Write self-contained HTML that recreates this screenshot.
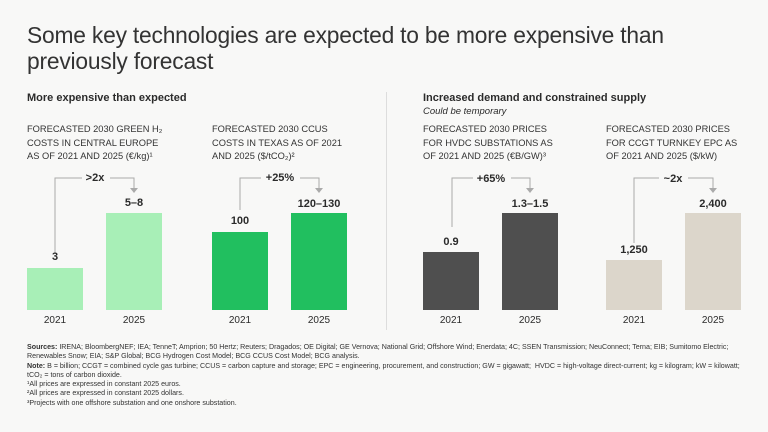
<!DOCTYPE html>
<html><head><style>
body{margin:0;width:768px;height:432px;background:#f8f8f7;font-family:"Liberation Sans",sans-serif;color:#2b2b2b;position:relative;overflow:hidden}
.a{position:absolute;white-space:nowrap}
.t{left:27px;font-size:22.8px;font-weight:300;color:#333;letter-spacing:-0.2px}
.h{font-size:11px;font-weight:bold;top:92px}
.s{font-size:9.3px;line-height:13.5px;top:123px;color:#333}
.b{position:absolute;bottom:122px;width:56px}
.v{font-size:11px;font-weight:bold;text-align:center;width:80px}
.y{font-size:10px;text-align:center;width:56px;top:315px}
.f{left:27px;top:343px;font-size:7.1px;line-height:9.3px;color:#333;white-space:normal;width:725px}
</style></head><body>
<div class="a t" style="top:22px">Some key technologies are expected to be more expensive than</div>
<div class="a t" style="top:48px">previously forecast</div>
<div class="a h" style="left:27px">More expensive than expected</div>
<div class="a h" style="left:423px">Increased demand and constrained supply</div>
<div class="a" style="left:423px;top:106px;font-size:9.5px;font-style:italic">Could be temporary</div>
<div class="a" style="left:386px;top:92px;width:1px;height:238px;background:#ddd"></div>
<div class="a s" style="left:27px">FORECASTED 2030 GREEN H₂<br>COSTS IN CENTRAL EUROPE<br>AS OF 2021 AND 2025 (€/kg)¹</div>
<div class="a s" style="left:212px">FORECASTED 2030 CCUS<br>COSTS IN TEXAS AS OF 2021<br>AND 2025 ($/tCO₂)²</div>
<div class="a s" style="left:423px">FORECASTED 2030 PRICES<br>FOR HVDC SUBSTATIONS AS<br>OF 2021 AND 2025 (€B/GW)³</div>
<div class="a s" style="left:606px">FORECASTED 2030 PRICES<br>FOR CCGT TURNKEY EPC AS<br>OF 2021 AND 2025 ($/kW)</div>
<svg class="a" style="left:0;top:0" width="768" height="432">
<g stroke="#aaa" stroke-width="1" fill="none">
<path d="M55 253V178H82M110 178H134V188"/>
<path d="M240 210V178H261M300 178H319V188"/>
<path d="M452 227V178H473M511 178H530V188"/>
<path d="M634 243V178H659M688 178H713V188"/>
</g>
<g fill="#aaa"><path d="M130 188h8l-4 5z"/><path d="M315 188h8l-4 5z"/><path d="M526 188h8l-4 5z"/><path d="M709 188h8l-4 5z"/></g>
</svg>
<div class="a v" style="left:55px;top:172px">&gt;2x</div>
<div class="a v" style="left:240px;top:172px">+25%</div>
<div class="a v" style="left:451px;top:173px">+65%</div>
<div class="a v" style="left:633px;top:173px">~2x</div>
<div class="b" style="left:27px;height:42px;background:#a8efb7"></div>
<div class="b" style="left:106px;height:97px;background:#a8efb7"></div>
<div class="b" style="left:212px;height:78px;background:#21bf5f"></div>
<div class="b" style="left:291px;height:97px;background:#21bf5f"></div>
<div class="b" style="left:423px;height:58px;background:#4f4f4f"></div>
<div class="b" style="left:502px;height:97px;background:#4f4f4f"></div>
<div class="b" style="left:606px;height:50px;background:#dcd6cb"></div>
<div class="b" style="left:685px;height:97px;background:#dcd6cb"></div>
<div class="a v" style="left:15px;top:251px">3</div>
<div class="a v" style="left:94px;top:197px">5–8</div>
<div class="a v" style="left:200px;top:215px">100</div>
<div class="a v" style="left:279px;top:198px">120–130</div>
<div class="a v" style="left:411px;top:236px">0.9</div>
<div class="a v" style="left:490px;top:198px">1.3–1.5</div>
<div class="a v" style="left:594px;top:244px">1,250</div>
<div class="a v" style="left:673px;top:198px">2,400</div>
<div class="a y" style="left:27px">2021</div><div class="a y" style="left:106px">2025</div>
<div class="a y" style="left:212px">2021</div><div class="a y" style="left:291px">2025</div>
<div class="a y" style="left:423px">2021</div><div class="a y" style="left:502px">2025</div>
<div class="a y" style="left:606px">2021</div><div class="a y" style="left:685px">2025</div>
<div class="a f"><b>Sources:</b> IRENA; BloombergNEF; IEA; TenneT; Amprion; 50 Hertz; Reuters; Dragados; OE Digital; GE Vernova; National Grid; Offshore Wind; Enerdata; 4C; SSEN Transmission; NeuConnect; Terna; EIB; Sumitomo Electric; Renewables Snow; EIA; S&amp;P Global; BCG Hydrogen Cost Model; BCG CCUS Cost Model; BCG analysis.<br><b>Note:</b> B = billion; CCGT = combined cycle gas turbine; CCUS = carbon capture and storage; EPC = engineering, procurement, and construction; GW = gigawatt;&nbsp; HVDC = high-voltage direct-current; kg = kilogram; kW = kilowatt; tCO₂ = tons of carbon dioxide.<br>¹All prices are expressed in constant 2025 euros.<br>²All prices are expressed in constant 2025 dollars.<br>³Projects with one offshore substation and one onshore substation.</div>
</body></html>
